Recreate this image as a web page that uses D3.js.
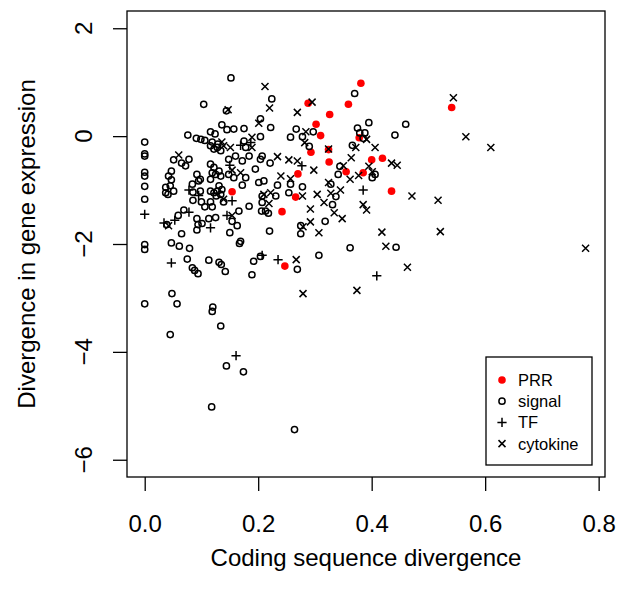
<!DOCTYPE html>
<html>
<head>
<meta charset="utf-8">
<script src="https://cdn.jsdelivr.net/npm/d3@7"></script>
<style>
body { margin: 0; background: #fff; }
text { font-family: "Liberation Sans", Arial, Helvetica, sans-serif; fill: #000; }
</style>
</head>
<body>
<div id="chart"></div>
<script>
// ---- data (x = coding sequence divergence, y = divergence in gene expression)
var prr_x = [0.381,0.288,0.359,0.326,0.302,0.310,0.293,0.324,0.325,0.378,0.400,0.419,0.355,0.385,0.270,0.266,0.154,0.242,0.247,0.435,0.541]
var prr_y = [0.98,0.61,0.59,0.40,0.22,0.01,-0.30,-0.25,-0.48,-0.03,-0.44,-0.41,-0.66,-0.68,-0.70,-1.13,-1.03,-1.40,-2.41,-1.02,0.53]

var signal_x = [0.104,0.076,0.091,0.099,0.106,0,0,0,0,0,0,0,0.051,0.065,0.072,0.078,0.047,0.042,0.047,0.092,
    0.098,0.037,0.045,0.051,0.037,0.084,0.095,0.098,0.085,0.041,0.039,0.059,0.069,0.065,0.047,0.061,0.079,0,0,0.075,
    0.084,0.088,0.094,0.113,0.048,0.057,0,0.120,0.119,0.085,0.100,0.106,0.116,0.119,0.092,0.094,0.101,0.092,0.113,0.125,
    0.126,0.122,0.128,0.134,0.139,0.184,0.166,0.154,0.163,0.150,0.169,0.167,0.207,0.206,0.213,0.218,0.231,0.254,0.220,0.131,
    0.135,0.142,0.192,0.189,0.204,0.269,0.045,0.134,0.144,0.174,0.118,0.264,0.337,0.331,0.318,0.275,0.275,0.362,0.443,0.307,
    0.152,0.224,0.144,0.204,0.222,0.136,0.145,0.157,0.175,0.116,0.124,0.267,0.257,0.204,0.129,0.119,0.175,0.178,0.116,0.122,
    0.128,0.134,0.160,0.172,0.184,0.148,0.204,0.207,0.221,0.195,0.116,0.122,0.119,0.125,0.131,0.134,0.116,0.178,0.157,0.148,
    0.210,0.201,0.234,0.257,0.172,0.131,0.136,0.116,0.207,0.370,0.395,0.297,0.278,0.290,0.375,0.379,0.388,0.385,0.366,0.344,
    0.341,0.406,0.278,0.328,0.460,0.441,0.401]
var signal_y = [0.59,0.02,-0.04,-0.06,-0.08,-0.11,-0.33,-0.37,-0.67,-0.74,-0.93,-1.17,-0.44,-0.50,-0.55,-0.43,-0.65,-0.74,-0.81,-0.71,
    -0.80,-0.95,-0.92,-1.02,-1.05,-0.89,-0.83,-1.02,-1.04,-1.08,-1.64,-1.47,-1.37,-1.81,-1.98,-2.04,-2.08,-2.01,-2.10,-2.28,
    -2.44,-2.49,-2.55,-2.30,-2.92,-3.11,-3.11,-3.17,-3.25,-1.19,-1.22,-1.31,-1.22,-1.31,-1.53,-1.64,-1.62,-1.74,-1.53,-1.51,
    -1.11,-1.05,-1.02,-1.08,-1.22,-1.30,-1.39,-1.58,-1.66,-1.79,-1.95,-1.99,-1.23,-1.39,-1.39,-1.43,-1.11,-1.05,-1.76,-2.34,
    -2.38,-2.51,-2.32,-2.57,-2.23,-2.47,-3.68,-3.52,-4.26,-4.37,-5.02,-5.44,-1.12,-1.27,-1.58,-1.66,-1.81,-2.07,-2.06,-2.21,
    1.08,0.69,0.47,0.32,0.16,0.21,0.12,0.13,0.14,0.08,0.04,0.13,-0.02,-0.01,-0.15,-0.11,-0.09,-0.21,-0.18,-0.24,
    -0.21,-0.27,-0.37,-0.46,-0.37,-0.43,-0.43,-0.37,-0.50,-0.61,-0.52,-0.58,-0.68,-0.71,-0.65,-0.74,-0.80,-0.77,-0.77,-0.71,
    -0.83,-0.86,-0.91,-0.89,-0.91,-0.92,-0.99,-1.02,-1.11,0.79,0.25,0.08,-0.01,-0.19,0.15,0.06,0.06,-0.04,-0.17,-0.56,
    -0.71,-0.71,-0.94,-0.89,0.22,0.02,-0.77]

var tf_x = [0.078,0.095,0,0.034,0.053,0.078,0.047,0.116,0.154,0.145,0.235,0.161,0.385,0.409,0.169,0.187,0.150,0.277,0.207]
var tf_y = [-1.00,-1.10,-1.45,-1.61,-1.56,-1.41,-2.35,-1.70,-1.20,-1.47,-2.29,-4.07,-1.00,-2.59,-0.17,-0.12,-0.54,-0.55,-2.21]

var cyto_x = [0.060,0.042,0.139,0.154,0.210,0.219,0.267,0.278,0.304,0.328,0.345,0.292,0.316,0.334,0.348,0.292,0.279,0.307,0.385,0.391,
    0.471,0.517,0.418,0.521,0.425,0.463,0.279,0.374,0.544,0.566,0.610,0.777,0.212,0.220,0.269,0.147,0.201,0.136,0.139,0.189,
    0.189,0.151,0.234,0.254,0.269,0.154,0.169,0.240,0.257,0.222,0.295,0.284,0.282,0.391,0.372,0.406,0.364,0.298,0.324,0.350,
    0.395,0.401,0.362,0.377,0.324,0.435,0.445]
var cyto_y = [-0.35,-1.66,-1.17,-1.47,-1.08,-1.25,-2.29,-1.11,-1.08,-1.06,-1.00,-1.35,-1.23,-1.42,-1.53,-1.59,-1.68,-1.79,-1.27,-1.37,
    -1.11,-1.19,-1.78,-1.77,-2.04,-2.43,-2.92,-2.86,0.71,-0.01,-0.21,-2.08,0.92,0.52,0.44,0.49,0.24,-0.11,-0.18,-0.02,
    -0.21,-0.21,-0.38,-0.44,-0.46,-0.63,-0.68,-0.74,-0.79,-1.05,0.63,0.08,-0.12,-0.06,-0.21,-0.21,-0.40,-0.63,-0.24,-0.55,
    -0.56,-0.66,-0.80,-0.73,-0.86,-0.50,-0.54]

var legend_labels = ["PRR", "signal", "TF", "cytokine"]
var x_ticks = [0.0, 0.2, 0.4, 0.6, 0.8]
var y_ticks = [2, 0, -2, -4, -6]

const zip = (xs, ys) => xs.map((v, i) => ({x: v, y: ys[i]}));

// set the dimensions of the plot box
var box = {left: 127, right: 605, top: 11, bottom: 477};

var svg = d3.select("#chart")
    .append("svg")
    .attr("width", 619)
    .attr("height", 599);

// x axis, range padded by 4% like R does
const x = d3.scaleLinear()
    .domain([-0.0312, 0.8112])
    .range([box.left, box.right]);

// y axis
const y = d3.scaleLinear()
    .domain([-6.32, 2.32])
    .range([box.bottom, box.top]);

// plot frame
svg.append("rect")
    .attr("x", box.left)
    .attr("y", box.top)
    .attr("width", box.right - box.left)
    .attr("height", box.bottom - box.top)
    .attr("fill", "none")
    .attr("stroke", "#000")
    .attr("stroke-width", 1.3);

// x ticks + labels
var xa = svg.append("g")
    .attr("transform", "translate(0," + box.bottom + ")")
    .call(d3.axisBottom(x).tickValues(x_ticks).tickSize(14).tickSizeOuter(0).tickFormat(d3.format(".1f")));
xa.select(".domain").remove();
xa.selectAll("line").attr("stroke-width", 1.3);
xa.selectAll("text")
    .attr("font-size", 24)
    .attr("font-family", "Liberation Sans, Arial, sans-serif")
    .attr("fill", "#000")
    .attr("dy", null)
    .attr("y", 55);

// y ticks
var ya = svg.append("g")
    .attr("transform", "translate(" + box.left + ",0)")
    .call(d3.axisLeft(y).tickValues(y_ticks).tickSize(14).tickSizeOuter(0));
ya.select(".domain").remove();
ya.selectAll("line").attr("stroke-width", 1.3);
ya.selectAll("text").remove();

// y tick labels, rotated like R's default
svg.append("g").selectAll("ylab")
    .data(y_ticks)
    .enter()
    .append("text")
    .attr("transform", d => "translate(" + 92 + "," + y(d) + ") rotate(-90)")
    .attr("text-anchor", "middle")
    .attr("font-size", 24)
    .text(d => d < 0 ? "\u2212" + Math.abs(d) : d);

// axis titles
svg.append("text")
    .attr("text-anchor", "middle")
    .attr("x", (box.left + box.right) / 2)
    .attr("y", 566)
    .attr("font-size", 24)
    .text("Coding sequence divergence");

svg.append("text")
    .attr("text-anchor", "middle")
    .attr("transform", "translate(35," + (box.top + box.bottom) / 2 + ") rotate(-90)")
    .attr("font-size", 24)
    .text("Divergence in gene expression");

// symbol paths
const plusPath = s => "M" + (-s) + ",0H" + s + "M0," + (-s) + "V" + s;
const timesPath = s => "M" + (-s) + "," + (-s) + "L" + s + "," + s + "M" + (-s) + "," + s + "L" + s + "," + (-s);

var pts = svg.append("g");

// PRR, filled red
pts.selectAll("prr")
    .data(zip(prr_x, prr_y))
    .enter()
    .append("circle")
    .attr("cx", d => x(d.x))
    .attr("cy", d => y(d.y))
    .attr("r", 3.8)
    .attr("fill", "#ff0000");

// signal, open circles
pts.selectAll("signal")
    .data(zip(signal_x, signal_y))
    .enter()
    .append("circle")
    .attr("cx", d => x(d.x))
    .attr("cy", d => y(d.y))
    .attr("r", 3.1)
    .attr("fill", "none")
    .attr("stroke", "#000")
    .attr("stroke-width", 1.5);

// TF, plus
pts.selectAll("tf")
    .data(zip(tf_x, tf_y))
    .enter()
    .append("path")
    .attr("transform", d => "translate(" + x(d.x) + "," + y(d.y) + ")")
    .attr("d", plusPath(4.6))
    .attr("stroke", "#000")
    .attr("stroke-width", 1.5);

// cytokine, times
pts.selectAll("cyto")
    .data(zip(cyto_x, cyto_y))
    .enter()
    .append("path")
    .attr("transform", d => "translate(" + x(d.x) + "," + y(d.y) + ")")
    .attr("d", timesPath(3.5))
    .attr("stroke", "#000")
    .attr("stroke-width", 1.5);

// legend
var lg = svg.append("g").attr("transform", "translate(486,357)");
lg.append("rect")
    .attr("width", 106)
    .attr("height", 108)
    .attr("fill", "#fff")
    .attr("stroke", "#000")
    .attr("stroke-width", 1.3);

var rows = lg.selectAll("row")
    .data(legend_labels)
    .enter()
    .append("g")
    .attr("transform", (d, i) => "translate(16," + (23 + i * 21.2) + ")");

rows.append("text")
    .attr("x", 16)
    .attr("y", 6)
    .attr("font-size", 16.5)
    .text(d => d);

rows.each(function (d, i) {
    var g = d3.select(this);
    if (i == 0) g.append("circle").attr("r", 3.8).attr("fill", "#ff0000");
    if (i == 1) g.append("circle").attr("r", 3.1).attr("fill", "none").attr("stroke", "#000").attr("stroke-width", 1.5);
    if (i == 2) g.append("path").attr("d", plusPath(4.6)).attr("stroke", "#000").attr("stroke-width", 1.5);
    if (i == 3) g.append("path").attr("d", timesPath(3.5)).attr("stroke", "#000").attr("stroke-width", 1.5);
});
</script>
</body>
</html>
